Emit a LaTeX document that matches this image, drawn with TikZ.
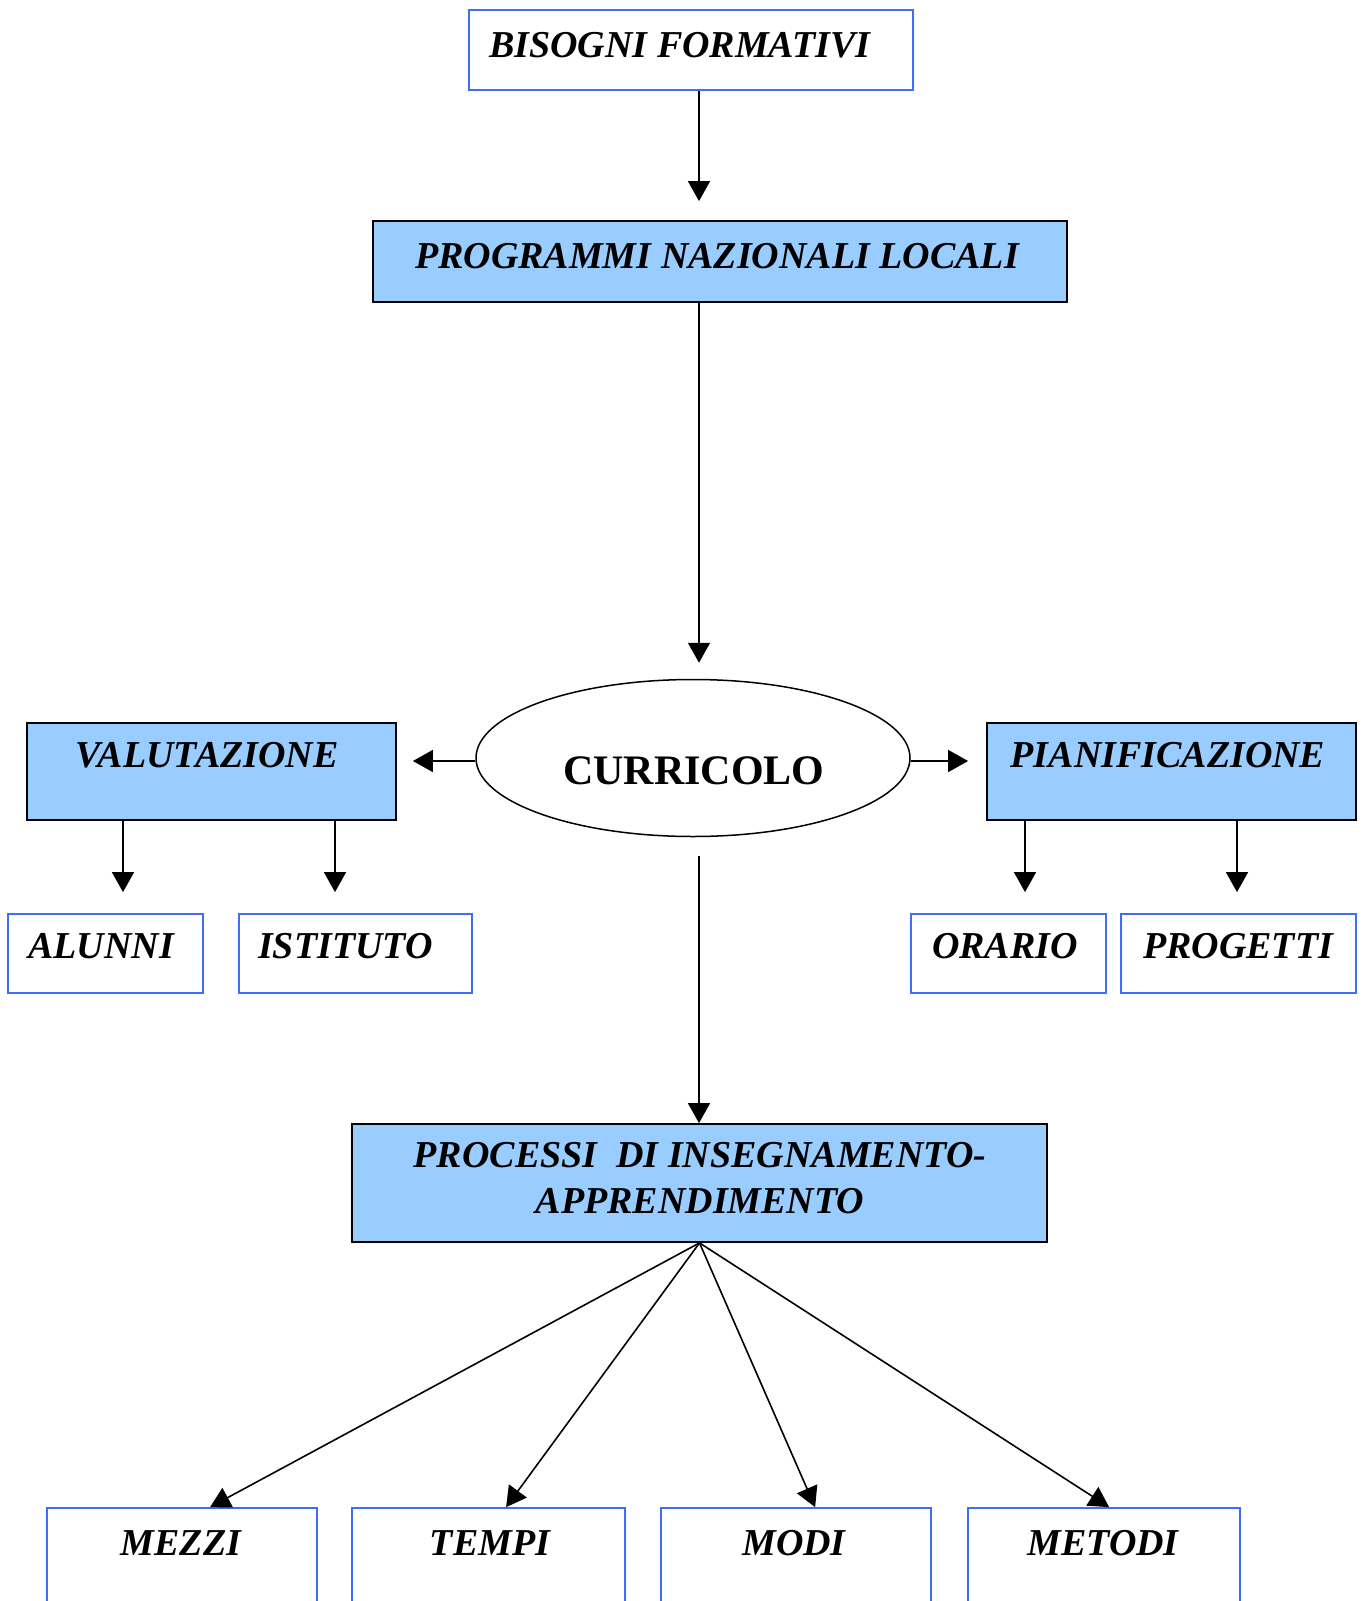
\documentclass[tikz,border=0pt]{standalone}
\usepackage{fontspec}
\setmainfont{Liberation Serif}
\usetikzlibrary{arrows.meta,calc,shapes.geometric}
\definecolor{boxblue}{RGB}{60,110,250}
\definecolor{fillblue}{RGB}{153,204,255}
\begin{document}
\begin{tikzpicture}[x=1pt,y=-1pt,
  bluebox/.style={draw=boxblue, line width=1.8pt, fill=white, inner sep=0pt, rectangle},
  fillbox/.style={draw=black, line width=1.8pt, fill=fillblue, inner sep=0pt, rectangle},
  lbl/.style={font=\fontsize{38}{46}\selectfont\bfseries\itshape, inner sep=0pt},
  arr/.style={line width=1.6pt, -{Triangle[width=22pt,length=20pt]}}]
\useasboundingbox (0,0) rectangle (1362,1601);
\fill[white] (0,0) rectangle (1362,1601);

% column coordinates
\coordinate (cx) at (699,0);
\coordinate (ca) at (123,0);
\coordinate (cb) at (335,0);
\coordinate (cc) at (1025,0);
\coordinate (cd) at (1237,0);

% boxes
\node[bluebox, minimum width=444pt, minimum height=80pt] (bis) at (691,50) {};
\node[fillbox, minimum width=694pt, minimum height=81pt] (prog) at (720,261.5) {};
\node[ellipse, draw=black, line width=1.5pt, fill=white, minimum width=434pt, minimum height=157pt, inner sep=0pt] (cur) at (693,758) {};
\node[fillbox, minimum width=369pt, minimum height=97pt] (val) at (211.5,771.5) {};
\node[fillbox, minimum width=369pt, minimum height=97pt] (pian) at (1171.5,771.5) {};
\node[bluebox, minimum width=195pt, minimum height=79pt] (alu) at (105.5,953.5) {};
\node[bluebox, minimum width=233pt, minimum height=79pt] (ist) at (355.5,953.5) {};
\node[bluebox, minimum width=195pt, minimum height=79pt] (ora) at (1008.5,953.5) {};
\node[bluebox, minimum width=235pt, minimum height=79pt] (prg) at (1238.5,953.5) {};
\node[fillbox, minimum width=695pt, minimum height=118pt] (proc) at (699.5,1183) {};
\node[bluebox, minimum width=270pt, minimum height=120pt] (mez) at (182,1568) {};
\node[bluebox, minimum width=273pt, minimum height=120pt] (tem) at (488.5,1568) {};
\node[bluebox, minimum width=270pt, minimum height=120pt] (mod) at (796,1568) {};
\node[bluebox, minimum width=272pt, minimum height=120pt] (met) at (1104,1568) {};

% labels
\node[lbl, anchor=base west] (tbis) at (489,57) {BISOGNI FORMATIVI};
\node[lbl, anchor=base] (tprog) at (717,268) {PROGRAMMI NAZIONALI LOCALI};
\node[inner sep=0pt, anchor=base, font=\fontsize{42}{50}\selectfont\bfseries] (tcur) at (694,784) {CURRICOLO};
\node[lbl, anchor=base] (tval) at (207,767) {VALUTAZIONE};
\node[lbl, anchor=base] (tpian) at (1168,767) {PIANIFICAZIONE};
\node[lbl, anchor=base west] (talu) at (28,958) {ALUNNI};
\node[lbl, anchor=base west] (tist) at (258,958) {ISTITUTO};
\node[lbl, anchor=base west] (tora) at (932,958) {ORARIO};
\node[lbl, anchor=base west] (tprg) at (1143,958) {PROGETTI};
\node[lbl, anchor=base, align=center] (tproc) at (700,1213) {PROCESSI\ \ DI INSEGNAMENTO-\\APPRENDIMENTO};
\node[lbl, anchor=base] (tmez) at (181,1555) {MEZZI};
\node[lbl, anchor=base] (ttem) at (490,1555) {TEMPI};
\node[lbl, anchor=base] (tmod) at (794,1555) {MODI};
\node[lbl, anchor=base] (tmet) at (1103,1555) {METODI};

% connectors
\draw[arr, shorten >=19pt] (bis.south -| cx) -- (prog.north -| cx);
\draw[arr, shorten >=16pt] (prog.south -| cx) -- (cur.north -| cx);
\draw[arr, shorten >=16pt] ($(cur.west)+(0,3)$) -- (val.east |- {$(cur.west)+(0,3)$});
\draw[arr, shorten >=18pt] ($(cur.east)+(0,3)$) -- (pian.west |- {$(cur.east)+(0,3)$});
\draw[arr, shorten >=21pt] (val.south -| ca) -- (alu.north -| ca);
\draw[arr, shorten >=21pt] (val.south -| cb) -- (ist.north -| cb);
\draw[arr, shorten >=21pt] (pian.south -| cc) -- (ora.north -| cc);
\draw[arr, shorten >=21pt] (pian.south -| cd) -- (prg.north -| cd);
\draw[arr, shorten <=19pt] (cur.south -| cx) -- (proc.north -| cx);
\draw[arr] (proc.south) -- ($(mez.north west)+(164,0)$);
\draw[arr] (proc.south) -- ($(tem.north west)+(155,0)$);
\draw[arr] (proc.south) -- ($(mod.north west)+(155,0)$);
\draw[arr] (proc.south) -- ($(met.north west)+(142,0)$);
\end{tikzpicture}
\end{document}
